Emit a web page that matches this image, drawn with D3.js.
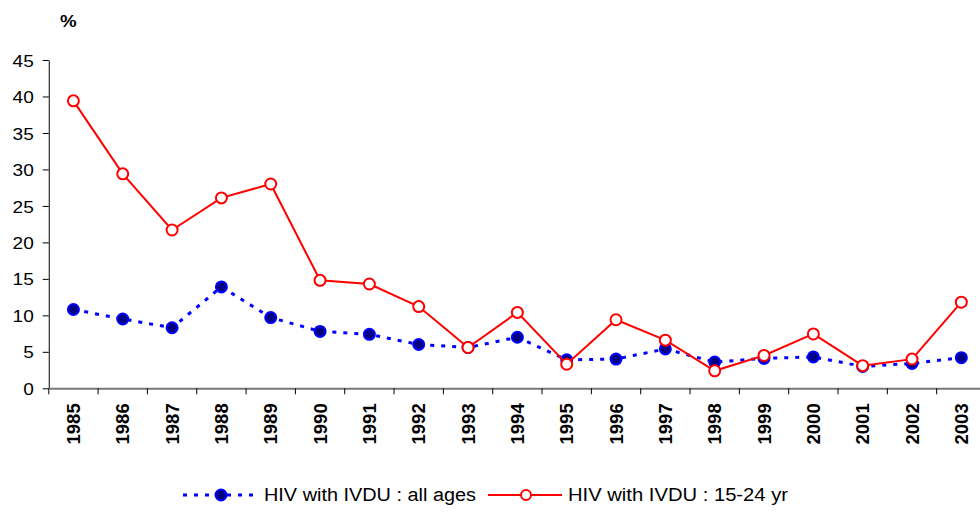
<!DOCTYPE html>
<html><head><meta charset="utf-8">
<script src="https://cdn.jsdelivr.net/npm/d3@7"></script>
<style>body{margin:0;background:#fff;}svg{display:block;font-family:"Liberation Sans",Arial,sans-serif;}</style>
</head><body>
<svg id="c" width="980" height="512"></svg>
<script>
const years = ["1985","1986","1987","1988","1989","1990","1991","1992","1993","1994","1995","1996","1997","1998","1999","2000","2001","2002","2003"];
const allAges = [10.8,9.5,8.3,13.9,9.7,7.8,7.4,6.0,5.6,7.0,3.9,4.0,5.4,3.6,4.1,4.3,3.0,3.4,4.2];
const youth = [39.4,29.4,21.7,26.1,28.0,14.8,14.3,11.2,5.6,10.4,3.3,9.4,6.6,2.4,4.5,7.45,3.1,4.0,11.8];
const yTicks = [0,5,10,15,20,25,30,35,40,45];
const seriesNames = ["HIV with IVDU : all ages","HIV with IVDU : 15-24 yr"];

const svg = d3.select("#c");
const pL = 48.75, pR = 986, pT = 60, pB = 388.3;
const x = d3.scaleBand().domain(years).range([pL, pR]);
const y = d3.scaleLinear().domain([0,45]).range([pB, pT]);
const stretch = (sel, k) => sel.each(function(){
  const w = this.getComputedTextLength();
  d3.select(this).attr("textLength", w*k).attr("lengthAdjust","spacingAndGlyphs");
});

// y axis
const ya = svg.append("g").attr("transform",`translate(${pL},0)`)
  .call(d3.axisLeft(y).tickValues(yTicks).tickSize(6).tickSizeOuter(0));
ya.select(".domain").attr("stroke","#000").attr("stroke-width",1);
ya.selectAll(".tick line").attr("stroke","#000");
ya.selectAll("text").attr("font-size",17).attr("fill","#000").attr("x",-15).attr("dy","0.36em").call(stretch,1.12);

// x axis
const xa = svg.append("g").attr("transform",`translate(0,${pB})`)
  .call(d3.axisBottom(x).tickSize(0).tickSizeOuter(0));
xa.select(".domain").attr("stroke","#777").attr("stroke-width",2);
xa.selectAll(".tick text").attr("font-size",18.5).attr("font-weight","bold").attr("fill","#000")
  .attr("transform","rotate(-90)").attr("text-anchor","end").attr("x",-15).attr("y",0).attr("dy","0.36em");
// boundary ticks
svg.append("g").selectAll("line").data(years).join("line")
  .attr("x1",d=>x(d)).attr("x2",d=>x(d)).attr("y1",pB).attr("y2",pB+6)
  .attr("stroke","#000").attr("stroke-width",1);

svg.append("text").attr("x",60).attr("y",27).attr("font-size",17).attr("font-weight","bold").text("%").call(stretch,1.1);

const cx = d => x(d) + x.bandwidth()/2;
const line = d3.line().x((d,i)=>cx(years[i])).y(d=>y(d));

// blue series
svg.append("path").datum(allAges).attr("d",line).attr("fill","none")
  .attr("stroke","#0000ff").attr("stroke-width",3).attr("stroke-dasharray","4,7");
svg.append("g").selectAll("circle").data(allAges).join("circle")
  .attr("cx",(d,i)=>cx(years[i])).attr("cy",d=>y(d)).attr("r",5.5)
  .attr("fill","#000080").attr("stroke","#0000ff").attr("stroke-width",2);

// red series
svg.append("path").datum(youth).attr("d",line).attr("fill","none")
  .attr("stroke","#ff0000").attr("stroke-width",2);
svg.append("g").selectAll("circle").data(youth).join("circle")
  .attr("cx",(d,i)=>cx(years[i])).attr("cy",d=>y(d)).attr("r",5.5)
  .attr("fill","#fff").attr("stroke","#ff0000").attr("stroke-width",2);

// legend
const ly = 495;
const lg = svg.append("g");
lg.append("line").attr("x1",183).attr("x2",258).attr("y1",ly).attr("y2",ly)
  .attr("stroke","#0000ff").attr("stroke-width",3).attr("stroke-dasharray","4,7");
lg.append("circle").attr("cx",221).attr("cy",ly).attr("r",5.5).attr("fill","#000080").attr("stroke","#0000ff").attr("stroke-width",2);
lg.append("text").attr("x",264).attr("y",ly).attr("dy","0.36em").attr("font-size",18).text(seriesNames[0])
  .attr("textLength",212).attr("lengthAdjust","spacingAndGlyphs");
lg.append("line").attr("x1",488).attr("x2",562).attr("y1",ly).attr("y2",ly)
  .attr("stroke","#ff0000").attr("stroke-width",2);
lg.append("circle").attr("cx",526).attr("cy",ly).attr("r",5).attr("fill","#fff").attr("stroke","#ff0000").attr("stroke-width",2);
lg.append("text").attr("x",568).attr("y",ly).attr("dy","0.36em").attr("font-size",18).text(seriesNames[1])
  .attr("textLength",220).attr("lengthAdjust","spacingAndGlyphs");
</script>
</body></html>
